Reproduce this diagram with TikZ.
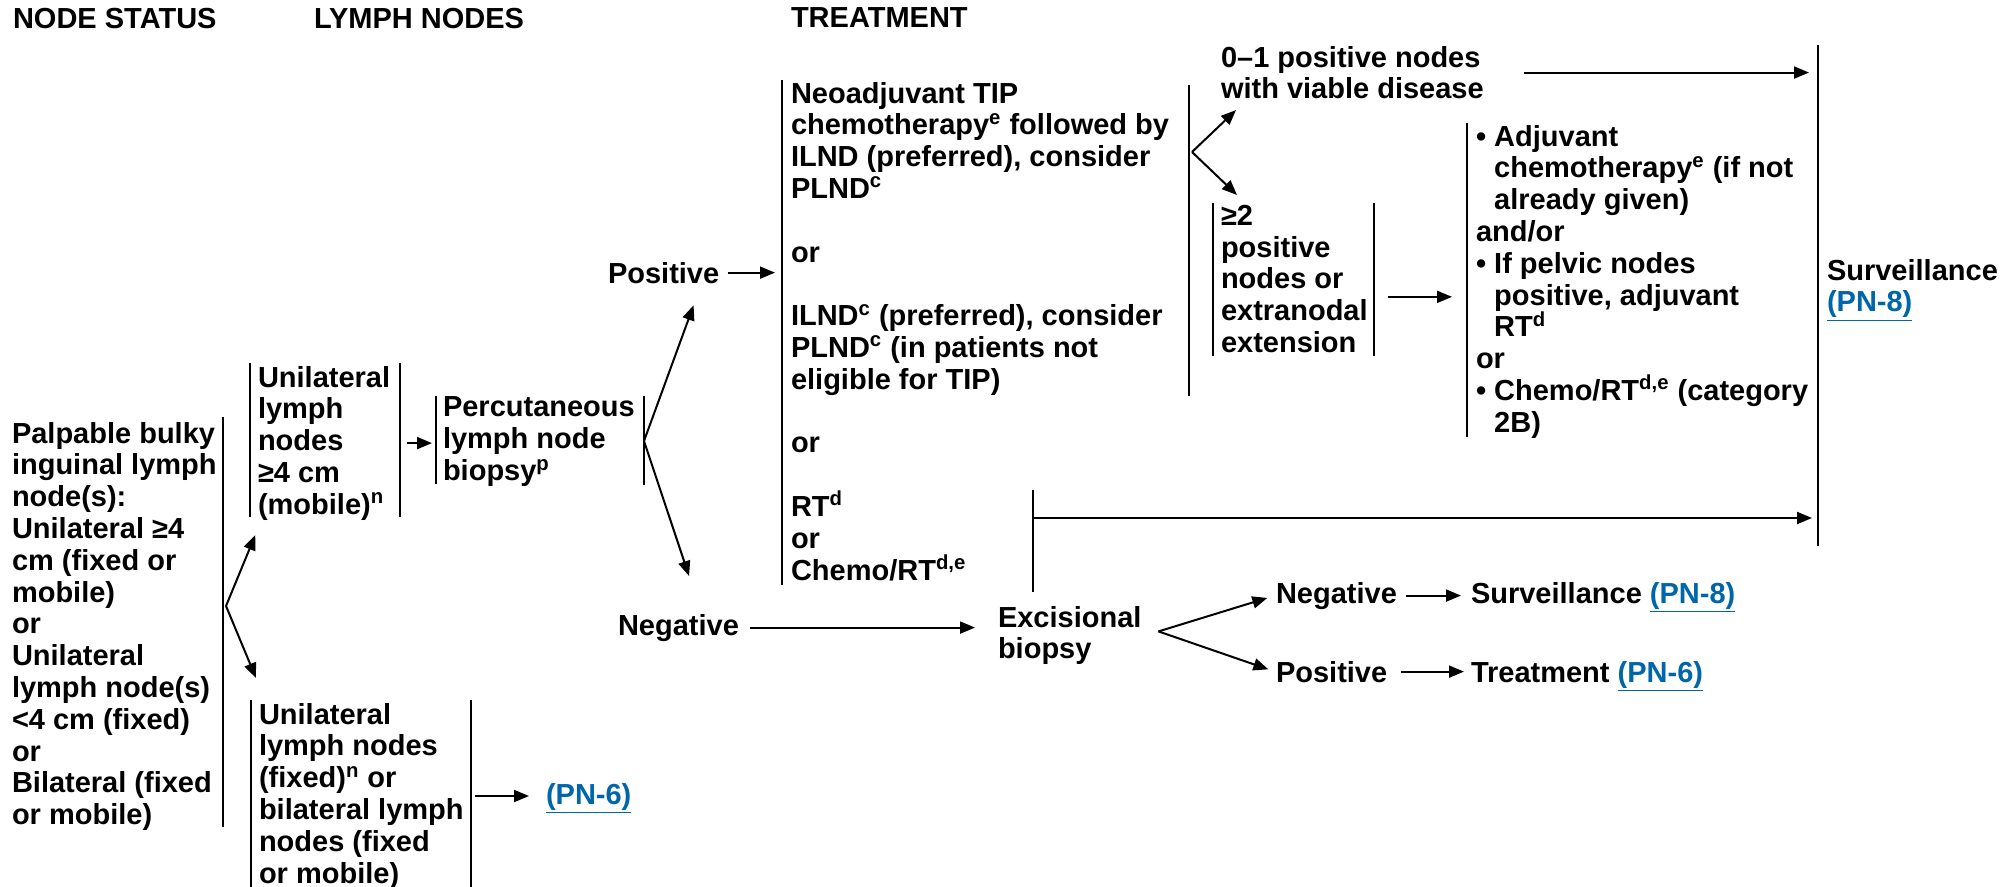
\documentclass[tikz,border=0pt]{standalone}
\usepackage{fontspec}
\setmainfont{Liberation Sans}
\usetikzlibrary{arrows.meta}
\definecolor{pnblue}{RGB}{0,102,170}
\newcommand{\pnlink}[1]{\textcolor{pnblue}{\underline{#1}}}
\newcommand{\bulind}{\phantom{•\ }}

\begin{document}
\begin{tikzpicture}[x=0.5pt, y=-0.5pt,
    every node/.style={anchor=north west, inner sep=0pt, align=left,
      font=\fontsize{14.5}{15.9}\selectfont\bfseries},
    bar/.style={line width=1.1pt},
    >={Triangle[length=7.5pt,width=6pt]}, line width=1pt]
  \useasboundingbox (0,0) rectangle (2015,887);

  % column headings
  \node (hstat) at (12,7) {NODE STATUS};
  \node (hlymph) at (313,7) {LYMPH NODES};
  \node (htreat) at (790,7) {TREATMENT};

  % text nodes
  \node (palp) at (11,421) {Palpable bulky\\inguinal lymph\\node(s):\\Unilateral ≥4\\cm (fixed or\\mobile)\\or\\Unilateral\\lymph node(s)\\<4 cm (fixed)\\or\\Bilateral (fixed\\or mobile)};
  \node (unimob) at (257,365) {Unilateral\\lymph\\nodes\\≥4 cm\\(mobile)\textsuperscript{n}};
  \node (unifix) at (258,702) {Unilateral\\lymph nodes\\(fixed)\textsuperscript{n} or\\bilateral lymph\\nodes (fixed\\or mobile)};
  \node (pn6) at (545,782) {\pnlink{(PN-6)}};
  \node (perc) at (442,396) {Percutaneous\\lymph node\\biopsy\textsuperscript{p}};
  \node (pos) at (607,261) {Positive};
  \node (neg) at (617,613) {Negative};
  \node (treat) at (790,81) {Neoadjuvant TIP\\chemotherapy\textsuperscript{e} followed by\\ILND (preferred), consider\\PLND\textsuperscript{c}\\[15.9pt]or\\[15.9pt]ILND\textsuperscript{c} (preferred), consider\\PLND\textsuperscript{c} (in patients not\\eligible for TIP)\\[15.9pt]or\\[15.9pt]RT\textsuperscript{d}\\or\\Chemo/RT\textsuperscript{d,e}};
  \node (zeroone) at (1220,45) {0–1 positive nodes\\with viable disease};
  \node (twoplus) at (1220,204) {≥2\\positive\\nodes or\\extranodal\\extension};
  \node (adjuv) at (1475,124) {• Adjuvant\\\bulind chemotherapy\textsuperscript{e} (if not\\\bulind already given)\\and/or\\• If pelvic nodes\\\bulind positive, adjuvant\\\bulind RT\textsuperscript{d}\\or\\• Chemo/RT\textsuperscript{d,e} (category\\\bulind 2B)};
  \node (surv) at (1826,258) {Surveillance\\\pnlink{(PN-8)}};
  \node (excis) at (997,605) {Excisional\\biopsy};
  \node (negb) at (1275,581) {Negative};
  \node (survb) at (1470,581) {Surveillance \pnlink{(PN-8)}};
  \node (posb) at (1275,660) {Positive};
  \node (treatb) at (1470,660) {Treatment \pnlink{(PN-6)}};

  % side bars
  \draw[bar] (223,417) -- (223,827);
  \draw[bar] (250,363) -- (250,517);
  \draw[bar] (400,363) -- (400,517);
  \draw[bar] (436,396) -- (436,484);
  \draw[bar] (644,396) -- (644,485);
  \draw[bar] (251,700) -- (251,887);
  \draw[bar] (471,700) -- (471,887);
  \draw[bar] (782,80) -- (782,585);
  \draw[bar] (1189,85) -- (1189,396);
  \draw[bar] (1213,203) -- (1213,356);
  \draw[bar] (1374,203) -- (1374,356);
  \draw[bar] (1467,123) -- (1467,437);
  \draw[bar] (1818,45) -- (1818,546);
  \draw[bar] (1033,490) -- (1033,592);

  % fork points
  \coordinate (f1) at (226,606);
  \coordinate (f2) at (644,441);
  \coordinate (f3) at (1192,152);
  \coordinate (f4) at ([xshift=8pt,yshift=2pt]excis.east);
  \coordinate (rtb) at (1033,518);

  % connectors
  \draw [->, shorten >=7.5pt](f1) -- ([xshift=2pt]unimob.south west);
  \draw [->, shorten >=13pt](f1) -- ([xshift=4pt]unifix.north west);
  \draw [->, shorten <=8pt, shorten >=5pt](unimob.east) -- (unimob.east -| perc.west);
  \draw [->, shorten <=5pt, shorten >=8pt](unifix.east) -- (unifix.east -| pn6.west);
  \draw [->](f2) -- ([xshift=15pt,yshift=-10.5pt]pos.south);
  \draw [->](f2) -- ([xshift=5.3pt,yshift=18.5pt]neg.north);
  \draw [->, shorten <=3.7pt, shorten >=7.5pt](pos.east) -- (pos.east -| treat.west);
  \draw [->, shorten <=5pt, shorten >=11pt](neg.east) -- (neg.east -| excis.west);
  \draw [->](f3) -- ([xshift=8pt,yshift=-5pt]zeroone.south west);
  \draw [->](f3) -- ([xshift=8.5pt,yshift=4.5pt]twoplus.north west);
  \draw [->, shorten <=19.5pt, shorten >=8.5pt](zeroone.east) -- (zeroone.east -| surv.west);
  \draw [->, shorten <=9.7pt, shorten >=11.5pt]([yshift=-9pt]twoplus.east) -- ([yshift=-9pt]twoplus.east -| adjuv.west);
  \draw [->, shorten >=7pt](rtb) -- (rtb -| surv.west);
  \draw [->, shorten >=4pt](f4) -- (negb.west);
  \draw [->, shorten >=3.5pt](f4) -- (posb.west);
  \draw [->, shorten <=4pt, shorten >=4.5pt](negb.east) -- (negb.east -| survb.west);
  \draw [->, shorten <=6.5pt, shorten >=3pt](posb.east) -- (posb.east -| treatb.west);
\end{tikzpicture}
\end{document}
